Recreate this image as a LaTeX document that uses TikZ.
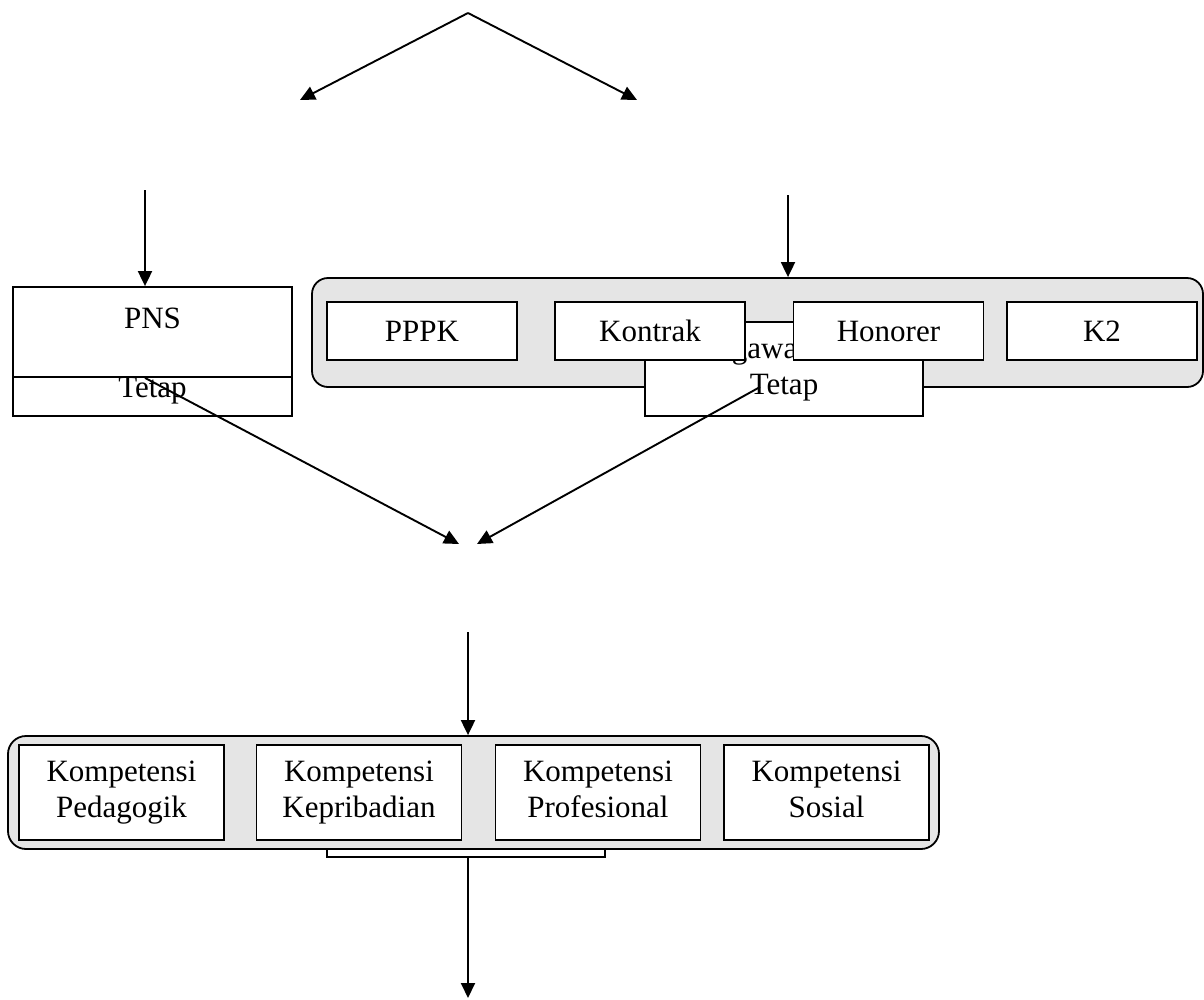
\documentclass[tikz,border=0pt]{standalone}
\usepackage{fontspec}
\setmainfont{Liberation Serif}
\usetikzlibrary{positioning,arrows.meta}

\newcommand{\twolines}[2]{\rule[-0.3\baselineskip]{0pt}{\dimexpr0.7\baselineskip+11pt\relax}#1\\\strut#2}

\begin{document}
\begin{tikzpicture}[x=1pt,y=-1pt,
  box/.style={draw,fill=white,line width=1.8pt,inner sep=0pt,align=center},
  group/.style={draw,fill=gray!20,line width=1.8pt,rounded corners=16pt,inner sep=0pt},
  arr/.style={line width=1.9pt,-{Triangle[length=15pt,width=14pt]}},
  font=\fontsize{31}{36}\selectfont
]
\useasboundingbox (0,0) rectangle (1204,999);

% top
\coordinate (apex) at (468,13);
\coordinate (lefttip) at (300,100);
\coordinate (righttip) at (637,100);
\draw[arr] (apex) -- (lefttip);
\draw[arr] (apex) -- (righttip);

% PNS
\coordinate (pnsin) at (145,190);
\node[box, minimum width=279pt, minimum height=129pt] (pnsbox) at (152.5,351.5) {};
\node[box, minimum width=279pt, minimum height=90pt, anchor=north] (pns) at (pnsbox.north) {};
\node (pnslabel) at (152.5,318) {PNS};
\node (pnstetap) at (152.5,391) {Tetap};
\draw[arr] (pnsin) -- (pnsin |- pns.north);

% non tetap
\coordinate (pntin) at (788,195);
\node[group, minimum width=891pt, minimum height=109pt] (grp) at (757.5,332.5) {};
\node[box, minimum width=278pt, minimum height=94pt] (pnt) at (784,369) {\twolines{Pegawai Non}{Tetap}};
\foreach \n/\x/\t in {pppk/422/PPPK, kontrak/650/Kontrak, honorer/888.5/Honorer, k2/1102/K2}
  \node[box, minimum width=190pt, minimum height=58pt] (\n) at (\x,331) {\t};
\draw[arr] (pntin) -- (pntin |- grp.north);

% join
\coordinate (joinL) at (459,544);
\coordinate (joinR) at (477,544);
\coordinate (pntout) at (760,387);
\draw[arr] (pnsin |- pns.south) -- (joinL);
\draw[arr] (pntout) -- (joinR);

% kompetensi
\coordinate (midin) at (468,632);
\node[box, minimum width=278pt, minimum height=40pt, anchor=south] (kombase) at (466,858) {};
\node[group, rounded corners=18pt, minimum width=931pt, minimum height=113pt] (kom) at (473.5,792.5) {};
\foreach \n/\x/\t in {ped/121.5/Pedagogik, kep/359/Kepribadian, pro/598/Profesional, sos/826.5/Sosial}
  \node[box, minimum width=205pt, minimum height=95pt] (\n) at (\x,792.5) {\twolines{Kompetensi}{\t}};
\draw[arr] (midin) -- (midin |- kom.north);

\coordinate (endpt) at (468,998);
\draw[arr] (endpt |- kombase.south) -- (endpt);

\end{tikzpicture}
\end{document}
